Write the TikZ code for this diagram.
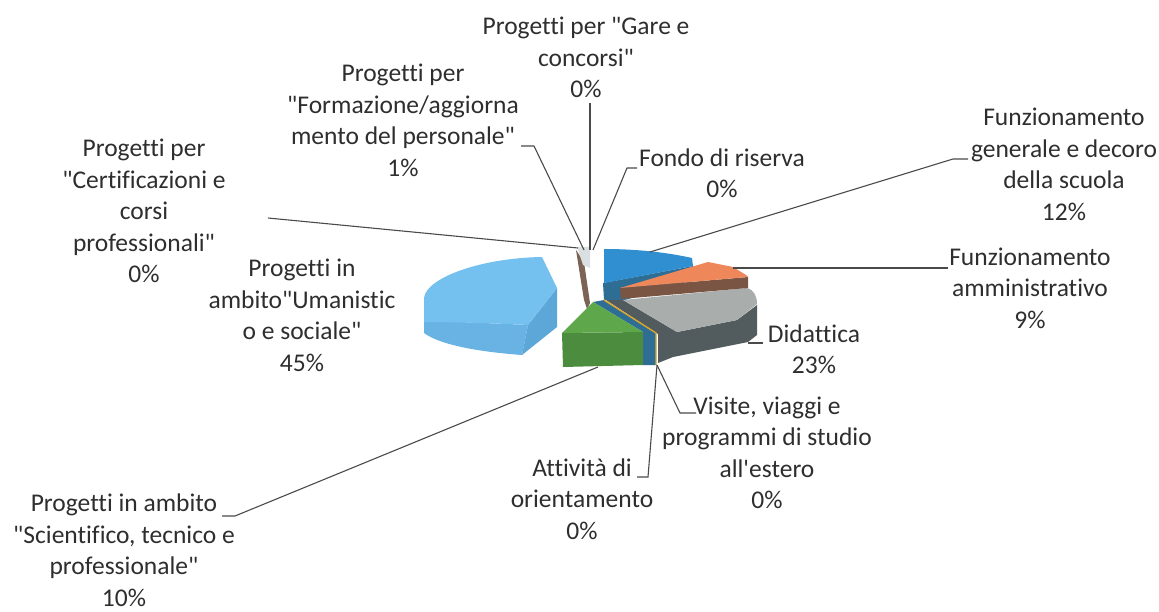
\documentclass[tikz,border=0pt]{standalone}
\usepackage{fontspec}
\newfontfamily\lab{Carlito}[Ligatures={NoCommon}]
\definecolor{txt}{HTML}{2E2E2E}
\definecolor{lead}{HTML}{4A4A4A}
\definecolor{lbTop}{HTML}{74C0EF}
\definecolor{lbSide}{HTML}{68B3E4}
\definecolor{lbCut}{HTML}{5DA6D8}
\definecolor{blTop}{HTML}{2F8FD0}
\definecolor{teal}{HTML}{2F6E94}
\definecolor{orTop}{HTML}{EE875A}
\definecolor{orSide}{HTML}{7A5543}
\definecolor{grTop}{HTML}{A9AEAD}
\definecolor{grSide}{HTML}{525B5D}
\definecolor{gnTop}{HTML}{5EA84B}
\definecolor{gnSide}{HTML}{4C8C3E}
\definecolor{gold}{HTML}{D9A52B}
\definecolor{brn}{HTML}{7D6354}
\definecolor{lgt}{HTML}{DADFE2}
\begin{document}
\begin{tikzpicture}[x=1pt,y=-1pt,
  lbl/.style={align=center, inner sep=0pt, font=\lab\fontsize{25.5}{31.5}\selectfont, text=txt},
  leader/.style={draw=lead, line width=1.1pt}]
\useasboundingbox (0,0) rectangle (1159,612);

% ---- light blue slice (45%)
\fill[lbSide] (424,320) .. controls (450,322) and (490,323) .. (528,325) -- (522,355)
  .. controls (480,352) and (440,345) .. (424,333) -- cycle;
\fill[lbCut] (528,325) -- (557,288) -- (557,327) -- (522,355) -- cycle;
\fill[lbTop] (424,322) -- (424,298) .. controls (426,278) and (480,258) .. (542,257)
  -- (557,288) -- (528,325) .. controls (490,323) and (450,322) .. (424,322) -- cycle;

% ---- brown sliver (1%)
\fill[brn] (576,250) -- (584,262) -- (590,303) -- (587,309) -- (584,300) -- cycle;
\fill[lgt] (577,247) -- (590,247) -- (590,268) -- (583,265) -- cycle;

% ---- teal sides of the blue slice
\fill[teal] (603,283) -- (693,266) -- (693,280) -- (625,300) -- (604,300) -- cycle;
\fill[teal] (604,300) -- (656,333) -- (656,365) -- (643,365) -- (643,332) -- (593,302) -- cycle;

% ---- grey slice (23%)
\fill[grSide] (606,300) -- (623,300) -- (677,332) -- (737,320) -- (757,305) -- (757,335)
  -- (748,342) -- (673,357) -- (658,363) -- (658,334) -- cycle;
\fill[grTop] (623,300) -- (747,288) .. controls (754,290) and (757,296) .. (757,304)
  -- (737,320) -- (677,332) -- cycle;

% ---- orange slice (9%)
\fill[orSide] (620,288) -- (748,277) -- (748,288) -- (621,299) -- cycle;
\fill[orTop] (620,288) -- (708,262) -- (733,267) -- (746,275) -- (748,277) -- cycle;

% ---- blue slice top (12%)
\fill[blTop] (604,249) .. controls (635,249) and (665,252) .. (692,258) -- (693,266) -- (604,283) -- cycle;

% ---- gold line (0%)
\draw[gold, line width=1.4pt] (604,300) -- (656,333) -- (656,365);

% ---- green slice (10%)
\fill[gnSide] (562,333) -- (643,332) -- (643,365) -- (563,367) -- cycle;
\fill[gnTop] (593,302) -- (643,332) -- (562,333) -- cycle;

% ---- labels
\node[lbl] (gare) at (586,57.5) {Progetti per "Gare e\\concorsi"\\0\%};
\node[lbl] (form) at (403,120.5) {Progetti per\\"Formazione/aggiorna\\mento del personale"\\1\%};
\node[lbl] (fondo) at (722,173.5) {Fondo di riserva\\0\%};
\node[lbl] (cert) at (144,211) {Progetti per\\"Certificazioni e\\corsi\\professionali"\\0\%};
\node[lbl] (fgen) at (1064,164.5) {Funzionamento\\generale e decoro\\della scuola\\12\%};
\node[lbl] (famm) at (1030,288) {Funzionamento\\amministrativo\\9\%};
\node[lbl] (did) at (814,349.5) {Didattica\\23\%};
\node[lbl] (uman) at (302,315.5) {Progetti in\\ambito"Umanistic\\o e sociale"\\45\%};
\node[lbl] (vis) at (767,453) {Visite, viaggi e\\programmi di studio\\all'estero\\0\%};
\node[lbl] (att) at (582,499) {Attività di\\orientamento\\0\%};
\node[lbl] (sci) at (124,550) {Progetti in ambito\\"Scientifico, tecnico e\\professionale"\\10\%};

% ---- leader coordinates
\coordinate (pGare) at (590,250);  \coordinate (tGare) at (590,103);
\coordinate (pFondo) at (593,250); \coordinate (kFondo) at (627,168); \coordinate (tFondo) at (637,168);
\coordinate (pForm) at (584,250);  \coordinate (kForm) at (534,146);  \coordinate (tForm) at (521,146);
\coordinate (pCert) at (578,248);  \coordinate (tCert) at (268,218);
\coordinate (pFgen) at (650,252);  \coordinate (kFgen) at (953,159);  \coordinate (tFgen) at (968,159);
\coordinate (pFamm) at (733,268);  \coordinate (tFamm) at (948,268);
\coordinate (pDid) at (748,343);   \coordinate (tDid) at (763,343);
\coordinate (pVis) at (657,365);   \coordinate (kVis) at (680,413);   \coordinate (tVis) at (696,413);
\coordinate (pAtt) at (657,365);   \coordinate (kAtt) at (648,477);   \coordinate (tAtt) at (637,477);
\coordinate (pSci) at (598,367);   \coordinate (kSci) at (235,516);   \coordinate (tSci) at (222,516);

\draw[leader] (pGare) -- (tGare);
\draw[leader] (pFondo) -- (kFondo) -- (tFondo);
\draw[leader] (pForm) -- (kForm) -- (tForm);
\draw[leader] (pCert) -- (tCert);
\draw[leader] (pFgen) -- (kFgen) -- (tFgen);
\draw[leader] (pFamm) -- (tFamm);
\draw[leader] (pDid) -- (tDid);
\draw[leader] (pVis) -- (kVis) -- (tVis);
\draw[leader] (pAtt) -- (kAtt) -- (tAtt);
\draw[leader] (pSci) -- (kSci) -- (tSci);
\end{tikzpicture}
\end{document}
